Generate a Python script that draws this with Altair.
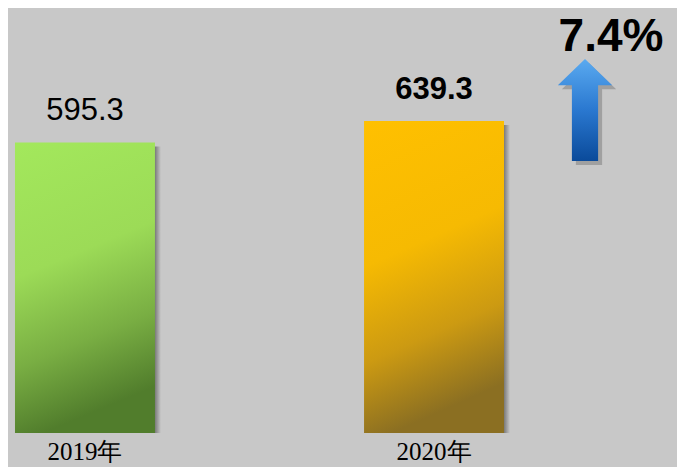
import altair as alt
import pandas as pd

years = ["2019年", "2020年"]
values = [595.3, 639.3]
growth = round((values[1] - values[0]) / values[0] * 100, 1)

df = pd.DataFrame({"year": years, "value": values})
df["label"] = df["value"].map(lambda v: f"{v:.1f}")
gdf = pd.DataFrame({"growth": [f"{growth}%"]})

BG = "#c8c8c8"
x_enc = alt.X("year:N", sort=years, axis=None,
              scale=alt.Scale(domain=years, range=[0, 503], paddingInner=0.599, paddingOuter=0.02))
y_scale = alt.Scale(domain=[0, 870.8], range=[425, 0])
y_enc = alt.Y("value:Q", axis=None, scale=y_scale)

def grad(stops, x2=0.2, y2=1.0):
    return alt.Gradient(gradient="linear", x1=0, y1=0, x2=x2, y2=y2,
                        stops=[alt.GradientStop(offset=o, color=c) for o, c in stops])

base = alt.Chart(df)

shadow = base.mark_bar(
    xOffset=6, x2Offset=6, yOffset=4, y2Offset=0,
    color=alt.Gradient(gradient="linear", x1=0, y1=0, x2=1, y2=0,
                       stops=[alt.GradientStop(offset=0, color="#767676"),
                              alt.GradientStop(offset=0.955, color="#767676"),
                              alt.GradientStop(offset=1, color=BG)])
).encode(x=x_enc, y=y_enc, y2=alt.datum(0))

green = base.transform_filter(alt.datum.year == years[0]).mark_bar(
    color=grad([(0, "#a3e85c"), (0.45, "#9cdb57"), (0.75, "#79ae43"), (1, "#517d2c")])
).encode(x=x_enc, y=y_enc, y2=alt.datum(0))

yellow = base.transform_filter(alt.datum.year == years[1]).mark_bar(
    color=grad([(0, "#ffc000"), (0.45, "#f6ba02"), (0.75, "#cc9a12"), (1, "#8b6f22")])
).encode(x=x_enc, y=y_enc, y2=alt.datum(0))

lab1 = base.transform_filter(alt.datum.year == years[0]).mark_text(
    font="Liberation Sans", fontSize=31, fontWeight="normal", color="#000000",
    baseline="alphabetic", align="center", dy=-22
).encode(x=x_enc, y=y_enc, text="label:N")

lab2 = base.transform_filter(alt.datum.year == years[1]).mark_text(
    font="Liberation Sans", fontSize=31, fontWeight="bold", color="#000000",
    baseline="alphabetic", align="center", dy=-22
).encode(x=x_enc, y=y_enc, text="label:N")

xlab = base.mark_text(
    font="Liberation Serif", fontSize=25, color="#000000",
    baseline="alphabetic", align="center", dy=27
).encode(x=x_enc, y=alt.Y(datum=0, scale=y_scale, axis=None), text="year:N")

arrow_path = "M0,-1 L0.533,-0.486 L0.257,-0.486 L0.257,1 L-0.257,1 L-0.257,-0.486 L-0.533,-0.486 Z"

arrow_shadow = alt.Chart(gdf).mark_point(
    shape=arrow_path, filled=True, fill="#6e6e6e", opacity=0.45, strokeOpacity=0, size=10400
).encode(x=alt.value(581), y=alt.value(106))

arrow = alt.Chart(gdf).mark_point(
    shape=arrow_path, filled=True, opacity=1, strokeOpacity=0, size=10400,
    fill=alt.Gradient(gradient="linear", x1=0, y1=0, x2=0, y2=1,
                      stops=[alt.GradientStop(offset=0, color="#5aaaf0"),
                             alt.GradientStop(offset=0.5, color="#2a78d0"),
                             alt.GradientStop(offset=1, color="#0a4a9a")])
).encode(x=alt.value(577), y=alt.value(102))

gtext = alt.Chart(gdf).mark_text(
    font="Liberation Sans", fontSize=46, fontWeight="bold", color="#000000",
    baseline="alphabetic", align="center"
).encode(x=alt.value(603), y=alt.value(43), text="growth:N")

chart = alt.layer(shadow, green, yellow, lab1, lab2, xlab, arrow_shadow, arrow, gtext).properties(
    width=669, height=459, background=BG, padding=0,
    autosize=alt.AutoSizeParams(type="none")
).configure_view(strokeWidth=0)

chart.save("out.html", embed_options={"renderer": "svg", "actions": False})
